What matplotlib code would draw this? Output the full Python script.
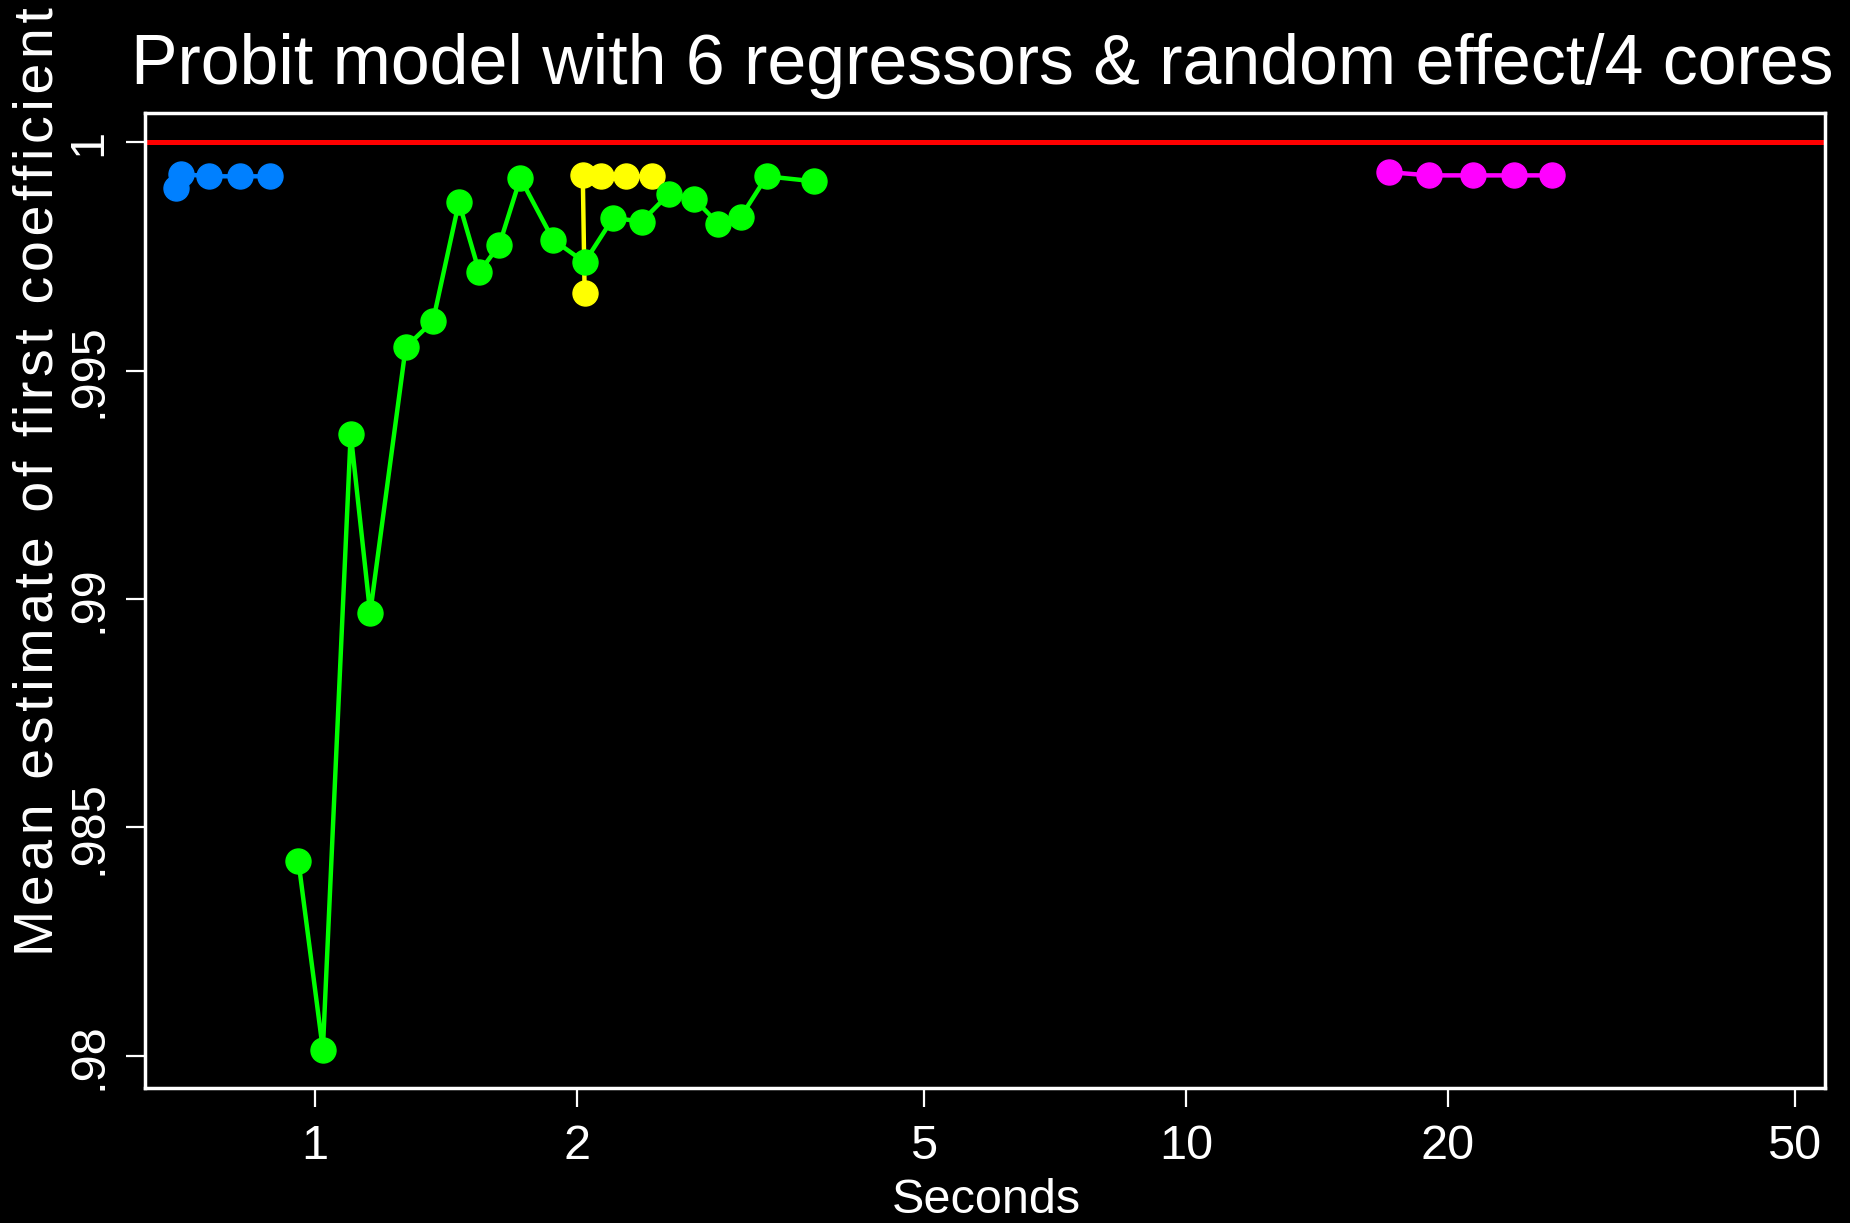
"""
Probit model with 6 regressors & random effect / 4 cores:
mean estimate of first coefficient vs. run time (log seconds).
"""
import matplotlib
matplotlib.use("Agg")
import matplotlib.pyplot as plt

# --- data ---
blue_sec = [0.692, 0.702, 0.756, 0.820, 0.888]
blue_est = [0.99899, 0.99930, 0.99925, 0.99925, 0.99925]

green_sec = [0.957, 1.021, 1.099, 1.157, 1.271, 1.366, 1.463, 1.544, 1.628, 1.721,
             1.877, 2.040, 2.200, 2.371, 2.551, 2.724, 2.906, 3.085, 3.302, 3.740]
green_est = [0.98427, 0.98014, 0.99362, 0.98969, 0.99551, 0.99608, 0.99868, 0.99715,
             0.99775, 0.99921, 0.99786, 0.99737, 0.99834, 0.99826, 0.99887, 0.99876,
             0.99821, 0.99837, 0.99925, 0.99914]

yellow_sec = [2.040, 2.030, 2.132, 2.274, 2.438]
yellow_est = [0.99669, 0.99927, 0.99925, 0.99925, 0.99925]

magenta_sec = [17.13, 19.03, 21.39, 23.83, 26.33]
magenta_est = [0.99934, 0.99927, 0.99927, 0.99927, 0.99927]

true_value = 1.0

x_ticks = [1, 2, 5, 10, 20, 50]
y_ticks = [0.98, 0.985, 0.99, 0.995, 1.0]
y_tick_labels = [".98", ".985", ".99", ".995", "1"]

TITLE = "Probit model with 6 regressors & random effect/4 cores"
YLABEL = "Mean estimate of first coefficient"
XLABEL = "Seconds"

# --- style ---
BG = "black"
FG = "white"
FONT = ["Liberation Sans", "DejaVu Sans"]
plt.rcParams["font.family"] = FONT

fig = plt.figure(figsize=(18.5, 12.23), dpi=100)
fig.patch.set_facecolor(BG)
ax = fig.add_axes([0.0784, 0.1104, 0.9081, 0.7972])
ax.set_facecolor(BG)

ax.axhline(true_value, color="#ff0000", linewidth=3.6, zorder=2)

ms, lw = 18, 3.2
ax.plot(blue_sec, blue_est, color="#0080ff", marker="o", markersize=ms,
        linewidth=lw, zorder=3)
ax.plot(yellow_sec, yellow_est, color="#ffff00", marker="o", markersize=ms,
        linewidth=lw, zorder=3)
ax.plot(green_sec, green_est, color="#00ff00", marker="o", markersize=ms,
        linewidth=lw, zorder=4)
ax.plot(magenta_sec, magenta_est, color="#ff00ff", marker="o", markersize=ms,
        linewidth=lw, zorder=3)

ax.set_xscale("log")
ax.set_xlim(0.638, 54.2)
ax.set_ylim(0.97930, 1.000635)

ax.set_xticks(x_ticks)
ax.set_xticklabels([str(t) for t in x_ticks])
ax.xaxis.set_minor_locator(matplotlib.ticker.NullLocator())
ax.set_yticks(y_ticks)
ax.set_yticklabels(y_tick_labels, rotation=90, va="center")

ax.tick_params(axis="both", colors=FG, labelcolor=FG, direction="out",
               length=14, width=1.6, labelsize=35)
ax.tick_params(axis="x", pad=12)
ax.tick_params(axis="y", pad=10)
for spine in ax.spines.values():
    spine.set_edgecolor(FG)
    spine.set_linewidth(2.5)

fig.text(0.531, 0.931, TITLE, color=FG, fontsize=50.3, ha="center", va="baseline")
fig.text(0.533, 0.0082, XLABEL, color=FG, fontsize=35, ha="center", va="baseline")
fig.text(0.021, 0.606, "\u200a".join(YLABEL), color=FG, fontsize=40,
         rotation=90, ha="center", va="center", family=FONT)

fig.savefig("out.png", dpi=100, facecolor=BG)
